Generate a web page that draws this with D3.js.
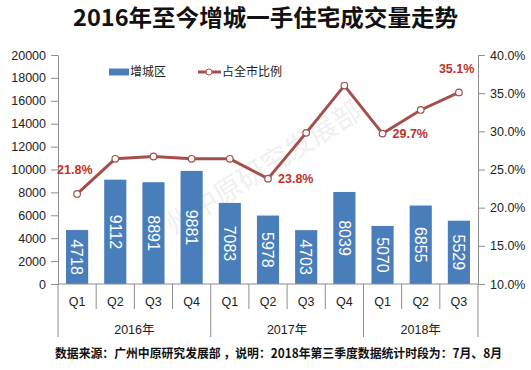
<!DOCTYPE html>
<html>
<head>
<meta charset="utf-8">
<script src="https://cdn.jsdelivr.net/npm/d3@7"></script>
<style>
  body { margin: 0; background: #fff; }
  svg { display: block; font-family: "Liberation Sans", "Noto Sans CJK SC", sans-serif; }
</style>
</head>
<body>
<svg width="531" height="370"></svg>
<script>
// data
var quarters = ["Q1", "Q2", "Q3", "Q4", "Q1", "Q2", "Q3", "Q4", "Q1", "Q2", "Q3"];
var years = ["2016年", "2017年", "2018年"];
var yearCounts = [4, 4, 3];
var volume = [4718, 9112, 8891, 9881, 7083, 5978, 4703, 8039, 5070, 6855, 5529];
var share = [21.8, 26.4, 26.7, 26.4, 26.4, 23.8, 29.8, 36.0, 29.7, 32.8, 35.1];
var shownShare = {0: "above", 5: "right", 8: "right", 10: "above"};
var leftTicks = [0, 2000, 4000, 6000, 8000, 10000, 12000, 14000, 16000, 18000, 20000];
var rightTicks = [10, 15, 20, 25, 30, 35, 40];

var svg = d3.select("svg");
var margin = {top: 55, right: 53, bottom: 86, left: 58};
var width = 531 - margin.left - margin.right,
    height = 370 - margin.top - margin.bottom;

var barColor = "#4a7ebb", lineColor = "#a3504c", labelRed = "#c0302a", axisColor = "#8c8c8c";

// faint watermark
var wm = svg.append("g").attr("fill", "#f0f0f0").style("font-size", "28px")
  .style("font-family", "Noto Sans CJK SC");
[[150, 250]].forEach(function(p) {
  wm.append("text").attr("transform", "translate(" + p[0] + "," + p[1] + ") rotate(-32)")
    .text("广州中原研究发展部");
});

svg.append("text")
    .attr("x", 73).attr("y", 26)
    .attr("textLength", 385).attr("lengthAdjust", "spacingAndGlyphs")
    .style("font-family", "Noto Sans CJK SC")
    .style("font-weight", "bold").style("font-size", "23px").attr("fill", "#111")
    .text("2016年至今增城一手住宅成交量走势");

var g = svg.append("g").attr("transform", "translate(" + margin.left + "," + margin.top + ")");

var x = d3.scaleBand().domain(d3.range(quarters.length)).range([0, width]).paddingInner(0.42).paddingOuter(0.21);
var xb = d3.scaleLinear().domain([0, quarters.length]).range([0, width]);
var y = d3.scaleLinear().domain([0, 20000]).range([height, 0]);
var y2 = d3.scaleLinear().domain([10, 40]).range([height, 0]);

var yAxis = d3.axisLeft(y).tickValues(leftTicks).tickSizeInner(7).tickSizeOuter(0).tickPadding(5)
    .tickFormat(d3.format("d"));
var yAxis2 = d3.axisRight(y2).tickValues(rightTicks).tickSizeInner(7).tickSizeOuter(0).tickPadding(5)
    .tickFormat(function(d) { return d.toFixed(1) + "%"; });

function styleAxis(sel) {
  sel.select(".domain").attr("stroke", axisColor);
  sel.selectAll(".tick line").attr("stroke", axisColor);
  sel.selectAll(".tick text").attr("fill", "#222").style("font-size", "12.5px")
    .style("font-family", "Liberation Sans");
}

g.append("g").call(yAxis).call(styleAxis);
g.append("g").attr("transform", "translate(" + width + ",0)").call(yAxis2).call(styleAxis);

// bars
g.selectAll(".bar").data(volume).enter().append("rect")
    .attr("class", "bar")
    .attr("x", function(d, i) { return x(i); })
    .attr("width", x.bandwidth())
    .attr("y", function(d) { return y(d); })
    .attr("height", function(d) { return height - y(d); })
    .attr("fill", barColor);

g.selectAll(".barlabel").data(volume).enter().append("text")
    .attr("transform", function(d, i) {
      return "translate(" + (x(i) + x.bandwidth() / 2) + "," + ((y(d) + height) / 2) + ") rotate(90)";
    })
    .attr("text-anchor", "middle").attr("dy", "0.36em")
    .attr("fill", "#fff").style("font-size", "16px")
    .text(function(d) { return d; });

// x axis with two-level categories
var xa = g.append("g").attr("transform", "translate(0," + height + ")");
xa.append("line").attr("x1", 0).attr("x2", width).attr("stroke", axisColor);
var bounds = [0];
yearCounts.reduce(function(a, c) { bounds.push(a + c); return a + c; }, 0);
d3.range(quarters.length + 1).forEach(function(i) {
  var major = bounds.indexOf(i) >= 0;
  xa.append("line").attr("x1", xb(i)).attr("x2", xb(i))
    .attr("y1", 0).attr("y2", major ? 53 : 25).attr("stroke", axisColor);
});
xa.selectAll(".q").data(quarters).enter().append("text")
    .attr("x", function(d, i) { return xb(i + 0.5); })
    .attr("y", 22).attr("text-anchor", "middle")
    .attr("fill", "#222").style("font-size", "12.5px")
    .text(function(d) { return d; });
xa.selectAll(".yr").data(years).enter().append("text")
    .attr("x", function(d, i) { return xb((bounds[i] + bounds[i + 1]) / 2); })
    .attr("y", 50).attr("text-anchor", "middle")
    .attr("fill", "#222").style("font-size", "12.5px")
    .text(function(d) { return d; });

// share line
var line = d3.line()
    .x(function(d, i) { return xb(i + 0.5); })
    .y(function(d) { return y2(d); });

g.append("path").datum(share)
    .attr("fill", "none").attr("stroke", lineColor).attr("stroke-width", 3)
    .attr("d", line);

g.selectAll(".dot").data(share).enter().append("circle")
    .attr("cx", function(d, i) { return xb(i + 0.5); })
    .attr("cy", function(d) { return y2(d); })
    .attr("r", 3.3)
    .attr("fill", "#fff").attr("stroke", lineColor).attr("stroke-width", 1.2);

g.selectAll(".pct").data(share).enter()
  .filter(function(d, i) { return shownShare[i]; })
  .append("text")
    .attr("x", function(d, i) {
      var idx = share.indexOf(d);
      return shownShare[idx] === "above" ? xb(idx + 0.5) - 20 : xb(idx + 0.5) + 10;
    })
    .attr("y", function(d) {
      var idx = share.indexOf(d);
      return shownShare[idx] === "above" ? y2(d) - 24 : y2(d);
    })
    .attr("dy", "0.36em")
    .attr("fill", labelRed).style("font-weight", "bold").style("font-size", "12.5px")
    .text(function(d) { return d.toFixed(1) + "%"; });

// legend
var legend = svg.append("g").attr("transform", "translate(109,72)");
legend.append("rect").attr("x", 0).attr("y", -3.5).attr("width", 20).attr("height", 7).attr("fill", barColor);
legend.append("text").attr("x", 21).attr("dy", "0.36em").style("font-size", "12px")
    .style("font-family", "Noto Sans CJK SC").attr("fill", "#222").text("增城区");
legend.append("line").attr("x1", 89).attr("x2", 112).attr("stroke", lineColor).attr("stroke-width", 3);
legend.append("circle").attr("cx", 100).attr("r", 3).attr("fill", "#fff").attr("stroke", lineColor);
legend.append("text").attr("x", 113).attr("dy", "0.36em").style("font-size", "12px")
    .style("font-family", "Noto Sans CJK SC").attr("fill", "#222").text("占全市比例");

svg.append("text")
    .attr("x", 55).attr("y", 358)
    .attr("textLength", 447).attr("lengthAdjust", "spacingAndGlyphs")
    .style("font-family", "Noto Sans CJK SC")
    .style("font-weight", "bold").style("font-size", "12.5px").attr("fill", "#111")
    .text("数据来源：广州中原研究发展部 ，说明：2018年第三季度数据统计时段为：7月、8月");
</script>
</body>
</html>
